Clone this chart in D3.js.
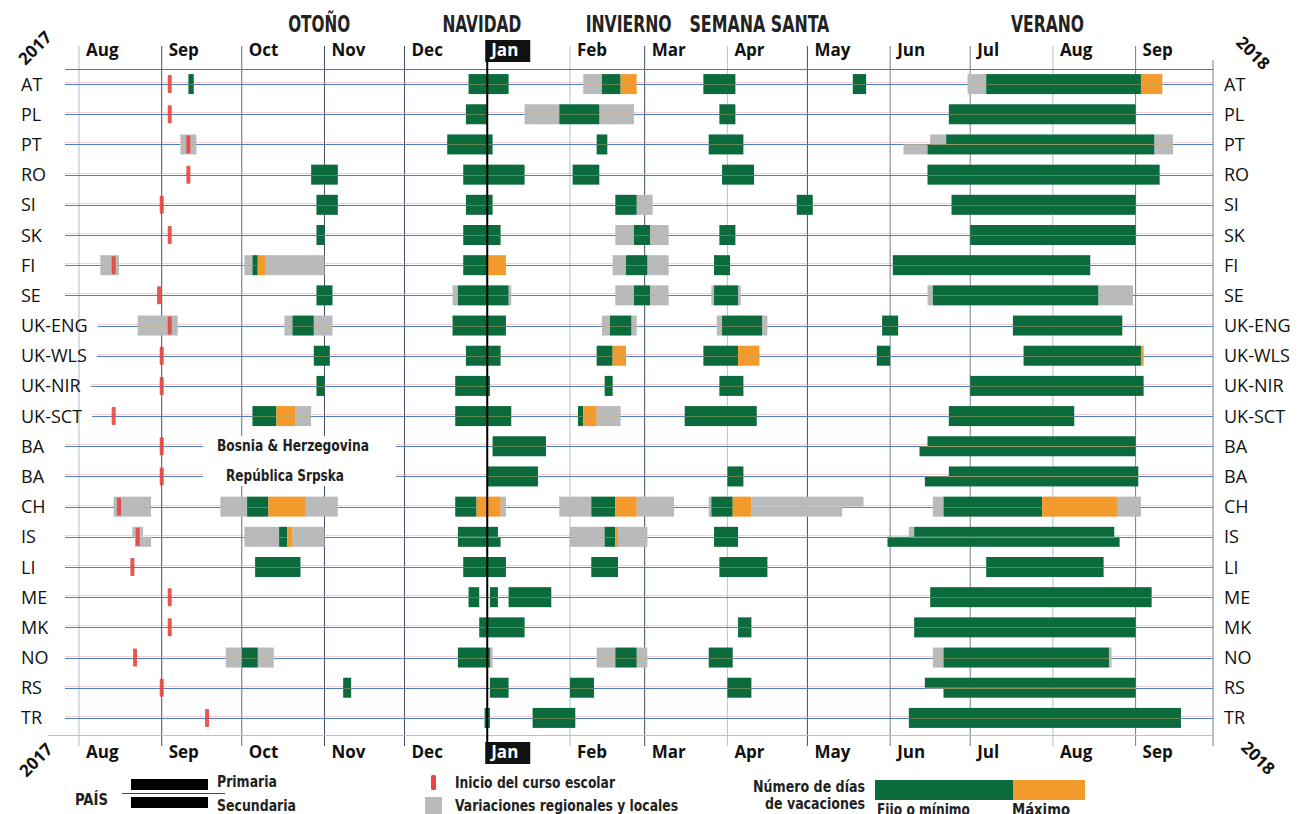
<!DOCTYPE html>
<html>
<head>
<meta charset="utf-8">
<script src="https://cdn.jsdelivr.net/npm/d3@7"></script>
<style>
  body { margin: 0; background: #fff; }
  svg { display: block; }
</style>
</head>
<body>
<svg id="chart" width="1304" height="814"></svg>
<script>
(function () {
	'use strict';

	// rows (two BA rows: Bosnia & Herzegovina / República Srpska)
	var rowIds = ["AT", "PL", "PT", "RO", "SI", "SK", "FI", "SE", "UK-ENG", "UK-WLS", "UK-NIR", "UK-SCT",
		"BA-BH", "BA-RS", "CH", "IS", "LI", "ME", "MK", "NO", "RS", "TR"];
	var rowLabels = ["AT", "PL", "PT", "RO", "SI", "SK", "FI", "SE", "UK-ENG", "UK-WLS", "UK-NIR", "UK-SCT",
		"BA", "BA", "CH", "IS", "LI", "ME", "MK", "NO", "RS", "TR"];

	var monthTicks = ["2017-08-01", "2017-09-01", "2017-10-01", "2017-11-01", "2017-12-01", "2018-01-01", "2018-02-01",
		"2018-03-01", "2018-04-01", "2018-05-01", "2018-06-01", "2018-07-01", "2018-08-01", "2018-09-01"];
	var tickLabels = ["Aug", "Sep", "Oct", "Nov", "Dec", "Jan", "Feb", "Mar", "Apr", "May", "Jun", "Jul", "Aug", "Sep"];

	var seasons = ["OTOÑO", "NAVIDAD", "INVIERNO", "SEMANA SANTA", "VERANO"];
	var seasonDates = ["2017-10-30", "2017-12-30", "2018-02-23", "2018-04-13", "2018-07-30"];

	// start of school year: [row, date]
	var schoolStart = [
		["AT", "2017-09-04"], ["PL", "2017-09-04"], ["PT", "2017-09-11"], ["RO", "2017-09-11"], ["SI", "2017-09-01"],
		["SK", "2017-09-04"], ["FI", "2017-08-14"], ["SE", "2017-08-31"], ["UK-ENG", "2017-09-04"], ["UK-WLS", "2017-09-01"],
		["UK-NIR", "2017-09-01"], ["UK-SCT", "2017-08-14"], ["BA-BH", "2017-09-01"], ["BA-RS", "2017-09-01"],
		["CH", "2017-08-16"], ["IS", "2017-08-23"], ["LI", "2017-08-21"], ["ME", "2017-09-04"], ["MK", "2017-09-04"],
		["NO", "2017-08-22"], ["RS", "2017-09-01"], ["TR", "2017-09-18"]
	];

	// regional and local variations: [row, start, end, half]  (b = both, p = primaria, s = secundaria)
	var regional = [
		["AT", "2018-02-06", "2018-02-13", "b"], ["AT", "2018-06-30", "2018-07-07", "b"],
		["PL", "2018-01-15", "2018-01-28", "b"], ["PL", "2018-02-12", "2018-02-25", "b"],
		["PT", "2017-09-08", "2017-09-14", "b"], ["PT", "2018-06-16", "2018-06-22", "p"], ["PT", "2018-09-08", "2018-09-15", "b"],
		["PT", "2018-06-06", "2018-06-15", "s"],
		["SI", "2018-02-26", "2018-03-04", "b"],
		["SK", "2018-02-18", "2018-02-25", "b"], ["SK", "2018-03-03", "2018-03-10", "b"],
		["FI", "2017-08-09", "2017-08-16", "b"], ["FI", "2017-10-02", "2017-10-05", "b"], ["FI", "2017-10-10", "2017-11-01", "b"],
		["FI", "2018-02-17", "2018-02-22", "b"], ["FI", "2018-03-02", "2018-03-10", "b"],
		["SE", "2017-12-19", "2017-12-21", "b"], ["SE", "2018-01-09", "2018-01-10", "b"], ["SE", "2018-02-18", "2018-02-25", "b"],
		["SE", "2018-03-03", "2018-03-10", "b"], ["SE", "2018-03-26", "2018-03-27", "b"], ["SE", "2018-04-05", "2018-04-06", "b"],
		["SE", "2018-06-15", "2018-06-17", "b"], ["SE", "2018-08-18", "2018-08-31", "b"],
		["UK-ENG", "2017-08-23", "2017-09-07", "b"], ["UK-ENG", "2017-10-17", "2017-10-20", "b"], ["UK-ENG", "2017-10-28", "2017-11-04", "b"],
		["UK-ENG", "2018-02-13", "2018-02-16", "b"], ["UK-ENG", "2018-02-24", "2018-02-26", "b"],
		["UK-ENG", "2018-03-28", "2018-03-30", "b"], ["UK-ENG", "2018-04-14", "2018-04-16", "b"],
		["UK-SCT", "2017-10-21", "2017-10-27", "b"], ["UK-SCT", "2018-02-11", "2018-02-20", "b"],
		["CH", "2017-08-14", "2017-08-28", "b"], ["CH", "2017-09-23", "2017-10-03", "b"], ["CH", "2017-10-25", "2017-11-06", "b"],
		["CH", "2018-01-06", "2018-01-08", "b"], ["CH", "2018-01-28", "2018-02-09", "b"], ["CH", "2018-02-26", "2018-03-12", "b"],
		["CH", "2018-03-25", "2018-03-26", "b"], ["CH", "2018-04-10", "2018-05-22", "p"], ["CH", "2018-04-10", "2018-05-14", "s"],
		["CH", "2018-06-17", "2018-06-21", "b"], ["CH", "2018-08-25", "2018-09-03", "b"],
		["IS", "2017-08-21", "2017-08-25", "p"], ["IS", "2017-08-22", "2017-08-28", "s"],
		["IS", "2017-10-02", "2017-10-15", "b"], ["IS", "2017-10-20", "2017-11-01", "b"],
		["IS", "2018-02-01", "2018-02-14", "b"], ["IS", "2018-02-19", "2018-03-02", "b"], ["IS", "2018-06-08", "2018-06-10", "p"],
		["NO", "2017-09-25", "2017-10-01", "b"], ["NO", "2017-10-07", "2017-10-13", "b"], ["NO", "2018-01-02", "2018-01-03", "b"],
		["NO", "2018-02-11", "2018-02-18", "b"], ["NO", "2018-02-26", "2018-03-02", "b"],
		["NO", "2018-06-17", "2018-06-21", "b"], ["NO", "2018-08-22", "2018-08-23", "b"]
	];

	// fixed or minimum holidays
	var fixedDays = [
		["AT", "2017-09-11", "2017-09-13", "b"], ["AT", "2017-12-25", "2018-01-09", "b"], ["AT", "2018-02-13", "2018-02-20", "b"],
		["AT", "2018-03-23", "2018-04-04", "b"], ["AT", "2018-05-18", "2018-05-23", "b"], ["AT", "2018-07-07", "2018-09-03", "b"],
		["PL", "2017-12-24", "2018-01-01", "b"], ["PL", "2018-01-28", "2018-02-12", "b"], ["PL", "2018-03-29", "2018-04-04", "b"],
		["PL", "2018-06-23", "2018-09-01", "b"],
		["PT", "2017-12-17", "2018-01-03", "b"], ["PT", "2018-02-11", "2018-02-15", "b"], ["PT", "2018-03-25", "2018-04-07", "b"],
		["PT", "2018-06-22", "2018-09-08", "p"], ["PT", "2018-06-15", "2018-09-08", "s"],
		["RO", "2017-10-27", "2017-11-06", "b"], ["RO", "2017-12-23", "2018-01-15", "b"], ["RO", "2018-02-02", "2018-02-12", "b"],
		["RO", "2018-03-30", "2018-04-11", "b"], ["RO", "2018-06-15", "2018-09-10", "b"],
		["SI", "2017-10-29", "2017-11-06", "b"], ["SI", "2017-12-24", "2018-01-03", "b"], ["SI", "2018-02-18", "2018-02-26", "b"],
		["SI", "2018-04-27", "2018-05-03", "b"], ["SI", "2018-06-24", "2018-09-01", "b"],
		["SK", "2017-10-29", "2017-11-01", "b"], ["SK", "2017-12-23", "2018-01-06", "b"], ["SK", "2018-02-25", "2018-03-03", "b"],
		["SK", "2018-03-29", "2018-04-04", "b"], ["SK", "2018-07-01", "2018-09-01", "b"],
		["FI", "2017-10-05", "2017-10-07", "b"], ["FI", "2017-12-23", "2018-01-01", "b"], ["FI", "2018-02-22", "2018-03-02", "b"],
		["FI", "2018-03-27", "2018-04-02", "b"], ["FI", "2018-06-02", "2018-08-15", "b"],
		["SE", "2017-10-29", "2017-11-04", "b"], ["SE", "2017-12-21", "2018-01-09", "b"], ["SE", "2018-02-25", "2018-03-03", "b"],
		["SE", "2018-03-27", "2018-04-05", "b"], ["SE", "2018-06-17", "2018-08-18", "b"],
		["UK-ENG", "2017-10-20", "2017-10-28", "b"], ["UK-ENG", "2017-12-19", "2018-01-08", "b"], ["UK-ENG", "2018-02-16", "2018-02-24", "b"],
		["UK-ENG", "2018-03-30", "2018-04-14", "b"], ["UK-ENG", "2018-05-29", "2018-06-04", "b"], ["UK-ENG", "2018-07-17", "2018-08-27", "b"],
		["UK-WLS", "2017-10-28", "2017-11-03", "b"], ["UK-WLS", "2017-12-24", "2018-01-06", "b"], ["UK-WLS", "2018-02-11", "2018-02-17", "b"],
		["UK-WLS", "2018-03-23", "2018-04-05", "b"], ["UK-WLS", "2018-05-27", "2018-06-01", "b"], ["UK-WLS", "2018-07-21", "2018-09-03", "b"],
		["UK-NIR", "2017-10-29", "2017-11-01", "b"], ["UK-NIR", "2017-12-20", "2018-01-02", "b"], ["UK-NIR", "2018-02-14", "2018-02-17", "b"],
		["UK-NIR", "2018-03-29", "2018-04-07", "b"], ["UK-NIR", "2018-07-01", "2018-09-04", "b"],
		["UK-SCT", "2017-10-05", "2017-10-14", "b"], ["UK-SCT", "2017-12-20", "2018-01-10", "b"], ["UK-SCT", "2018-02-04", "2018-02-06", "b"],
		["UK-SCT", "2018-03-16", "2018-04-12", "b"], ["UK-SCT", "2018-06-23", "2018-08-09", "b"],
		["BA-BH", "2018-01-03", "2018-01-23", "b"], ["BA-BH", "2018-06-15", "2018-09-01", "p"], ["BA-BH", "2018-06-12", "2018-09-01", "s"],
		["BA-RS", "2018-01-01", "2018-01-20", "b"], ["BA-RS", "2018-04-01", "2018-04-07", "b"],
		["BA-RS", "2018-06-23", "2018-09-02", "p"], ["BA-RS", "2018-06-14", "2018-09-02", "s"],
		["CH", "2017-10-03", "2017-10-11", "b"], ["CH", "2017-12-20", "2017-12-28", "b"], ["CH", "2018-02-09", "2018-02-18", "b"],
		["CH", "2018-03-26", "2018-04-03", "b"], ["CH", "2018-06-21", "2018-07-28", "b"],
		["IS", "2017-10-15", "2017-10-18", "b"], ["IS", "2017-12-21", "2018-01-05", "p"], ["IS", "2017-12-21", "2018-01-06", "s"],
		["IS", "2018-02-14", "2018-02-18", "b"], ["IS", "2018-03-27", "2018-04-05", "b"],
		["IS", "2018-06-10", "2018-08-24", "p"], ["IS", "2018-05-31", "2018-08-26", "s"],
		["LI", "2017-10-06", "2017-10-23", "b"], ["LI", "2017-12-23", "2018-01-08", "b"], ["LI", "2018-02-09", "2018-02-19", "b"],
		["LI", "2018-03-29", "2018-04-16", "b"], ["LI", "2018-07-07", "2018-08-20", "b"],
		["ME", "2017-12-25", "2017-12-29", "b"], ["ME", "2018-01-02", "2018-01-05", "b"], ["ME", "2018-01-09", "2018-01-25", "b"],
		["ME", "2018-06-16", "2018-09-07", "b"],
		["MK", "2017-12-29", "2018-01-15", "b"], ["MK", "2018-04-05", "2018-04-10", "b"], ["MK", "2018-06-10", "2018-09-01", "b"],
		["NO", "2017-10-01", "2017-10-07", "b"], ["NO", "2017-12-21", "2018-01-02", "b"], ["NO", "2018-02-18", "2018-02-26", "b"],
		["NO", "2018-03-25", "2018-04-03", "b"], ["NO", "2018-06-21", "2018-08-22", "b"],
		["RS", "2017-11-08", "2017-11-11", "b"], ["RS", "2018-01-02", "2018-01-09", "b"], ["RS", "2018-02-01", "2018-02-10", "b"],
		["RS", "2018-04-01", "2018-04-10", "b"], ["RS", "2018-06-14", "2018-09-01", "p"], ["RS", "2018-06-21", "2018-09-01", "s"],
		["TR", "2017-12-31", "2018-01-02", "b"], ["TR", "2018-01-18", "2018-02-03", "b"], ["TR", "2018-06-08", "2018-09-18", "b"]
	];

	// maximum holidays
	var maxDays = [
		["AT", "2018-02-20", "2018-02-26", "b"], ["AT", "2018-09-03", "2018-09-11", "b"],
		["FI", "2017-10-07", "2017-10-10", "b"], ["FI", "2018-01-01", "2018-01-08", "b"],
		["UK-WLS", "2018-02-17", "2018-02-22", "b"], ["UK-WLS", "2018-04-05", "2018-04-13", "b"], ["UK-WLS", "2018-09-03", "2018-09-04", "b"],
		["UK-SCT", "2017-10-14", "2017-10-21", "b"], ["UK-SCT", "2018-02-06", "2018-02-11", "b"],
		["CH", "2017-10-11", "2017-10-25", "b"], ["CH", "2017-12-28", "2018-01-06", "b"], ["CH", "2018-02-18", "2018-02-26", "b"],
		["CH", "2018-04-03", "2018-04-10", "b"], ["CH", "2018-07-28", "2018-08-25", "b"],
		["IS", "2017-10-18", "2017-10-20", "b"], ["IS", "2018-02-18", "2018-02-19", "b"]
	];

	var GREEN = "#0c6b3c", ORANGE = "#f39a2c", GRAY = "#b9babc", RED = "#e8453c";
	var condensed = "'Liberation Sans Narrow', 'DejaVu Sans Condensed', 'Roboto Condensed', sans-serif";
	var humanist = "'Open Sans', 'Noto Sans', sans-serif";

	var parse = d3.timeParse("%Y-%m-%d");
	var svg = d3.select("#chart");

	var x = d3.scaleTime()
		.domain([parse("2017-08-01"), parse("2018-09-30")])
		.range([79, 1213]);
	var y = d3.scaleBand().domain(rowIds).range([69, 733]);
	function yc(id) { return y(id) + y.bandwidth() / 2; }
	function y0(d) { return d[3] === "s" ? yc(d[0]) : yc(d[0]) - 10; }
	function hh(d) { return d[3] === "b" ? 20 : 10; }

	// month line tones
	var tone = ["#a9bfd6", "#3f5068", "#5d6f86", "#3f5068", "#3f5068", "#000", "#a9bfd6",
		"#3f5068", "#a9c6e0", "#3f5068", "#6d7f96", "#6d7f96", "#a9bfd6", "#6d7f96"];

	var gLines = svg.append("g");
	monthTicks.forEach(function (m, i) {
		if (i === 5) return;
		gLines.append("line")
			.attr("x1", x(parse(m))).attr("x2", x(parse(m)))
			.attr("y1", 46).attr("y2", 746)
			.attr("stroke", tone[i]).attr("stroke-width", 1);
	});
	gLines.append("line")
		.attr("x1", x.range()[1]).attr("x2", x.range()[1])
		.attr("y1", 60).attr("y2", 746)
		.attr("stroke", "#6d7f96");

	// frame lines
	svg.append("line").attr("x1", 65).attr("x2", 1213).attr("y1", 69.5).attr("y2", 69.5)
		.attr("stroke", "#4f77b8");
	svg.append("line").attr("x1", 48).attr("x2", 1213).attr("y1", 735.5).attr("y2", 735.5)
		.attr("stroke", "#a9c6e0");

	// row labels
	var gLab = svg.append("g")
		.attr("font-family", humanist).attr("font-size", 18).attr("fill", "#111");
	var labelEnds = {};
	rowIds.forEach(function (id, i) {
		var t = gLab.append("text")
			.attr("x", 21).attr("y", yc(id) + 6.5)
			.text(rowLabels[i]);
		labelEnds[id] = 21 + t.node().getComputedTextLength();
		gLab.append("text")
			.attr("x", 1224).attr("y", yc(id) + 6.5)
			.text(rowLabels[i]);
	});

	// row lines
	var gRows = svg.append("g");
	rowIds.forEach(function (id) {
		var x1 = Math.max(65, labelEnds[id] + 10);
		gRows.append("line")
			.attr("x1", x1).attr("x2", 1213)
			.attr("y1", Math.round(yc(id)) - 1.5).attr("y2", Math.round(yc(id)) - 1.5)
			.attr("stroke", "#ee9a9a").attr("stroke-opacity", 0.45);
		gRows.append("line")
			.attr("x1", x1).attr("x2", 1213)
			.attr("y1", Math.round(yc(id)) + 0.5).attr("y2", Math.round(yc(id)) + 0.5)
			.attr("stroke", "#4f7fc4");
	});

	// BA notes box
	svg.append("rect").attr("x", 203).attr("y", 436).attr("width", 193).attr("height", 50).attr("fill", "#fff");
	svg.append("text").attr("x", 217).attr("y", yc("BA-BH") + 5)
		.attr("font-family", condensed).attr("font-weight", "bold")
		.attr("font-size", 15).attr("fill", "#222")
		.attr("textLength", 152).attr("lengthAdjust", "spacingAndGlyphs")
		.text("Bosnia & Herzegovina");
	svg.append("text").attr("x", 226).attr("y", yc("BA-RS") + 5)
		.attr("font-family", condensed).attr("font-weight", "bold")
		.attr("font-size", 15).attr("fill", "#222")
		.attr("textLength", 118).attr("lengthAdjust", "spacingAndGlyphs")
		.text("República Srpska");

	function bars(data, color) {
		svg.append("g").selectAll("rect")
			.data(data)
			.enter()
			.append("rect")
			.attr("x", function (d) { return x(parse(d[1])); })
			.attr("width", function (d) { return Math.max(2, x(parse(d[2])) - x(parse(d[1]))); })
			.attr("y", y0)
			.attr("height", hh)
			.attr("fill", color);
	}
	bars(regional, GRAY);
	bars(fixedDays, GREEN);
	bars(maxDays, ORANGE);

	// thin divider between primaria / secundaria over the bars
	svg.append("g").selectAll("line")
		.data(fixedDays.concat(maxDays, regional))
		.enter()
		.append("line")
		.attr("x1", function (d) { return x(parse(d[1])); })
		.attr("x2", function (d) { return x(parse(d[2])); })
		.attr("y1", function (d) { return Math.round(yc(d[0])) + 0.5; })
		.attr("y2", function (d) { return Math.round(yc(d[0])) + 0.5; })
		.attr("stroke", "#c9ad6e").attr("stroke-opacity", 0.55).attr("stroke-width", 0.8);

	// school start markers
	svg.append("g").selectAll("rect")
		.data(schoolStart)
		.enter()
		.append("rect")
		.attr("x", function (d) { return x(parse(d[1])) - 2; })
		.attr("y", function (d) { return yc(d[0]) - 9; })
		.attr("width", 4)
		.attr("height", 18)
		.attr("rx", 1)
		.attr("fill", RED)
		.attr("fill-opacity", 0.9);

	// January line on top
	var jan = x(parse("2018-01-01"));
	svg.append("line").attr("x1", jan).attr("x2", jan).attr("y1", 58).attr("y2", 746)
		.attr("stroke", "#000").attr("stroke-width", 2);

	// month labels top / bottom
	var gM = svg.append("g").attr("font-family", humanist).attr("font-weight", "bold").attr("font-size", 17);
	[56, 758].forEach(function (by) {
		monthTicks.forEach(function (m, i) {
			var xx = x(parse(m));
			if (i === 5) {
				gM.append("rect").attr("x", xx - 2).attr("y", by - 16).attr("width", 45).attr("height", 22).attr("fill", "#111");
				gM.append("text").attr("x", xx + 4).attr("y", by).attr("fill", "#fff").text(tickLabels[i]);
			} else {
				gM.append("text").attr("x", xx + 7).attr("y", by).attr("fill", "#111").text(tickLabels[i]);
			}
		});
	});

	// season titles
	var seasonWidths = [62, 79, 86, 140, 73];
	svg.append("g").selectAll("text")
		.data(seasons)
		.enter()
		.append("text")
		.attr("x", function (d, i) { return x(parse(seasonDates[i])) - seasonWidths[i] / 2; })
		.attr("y", 32)
		.attr("textLength", function (d, i) { return seasonWidths[i]; })
		.attr("lengthAdjust", "spacingAndGlyphs")
		.attr("font-family", condensed).attr("font-weight", "bold").attr("font-size", 23)
		.attr("fill", "#222")
		.text(function (d) { return d; });

	// year corner labels
	function year(t, cx, cy, a) {
		svg.append("text")
			.attr("transform", "translate(" + cx + "," + cy + ") rotate(" + a + ")")
			.attr("text-anchor", "middle").attr("dy", "0.35em")
			.attr("font-family", humanist).attr("font-weight", "bold").attr("font-size", 17)
			.attr("fill", "#111").text(t);
	}
	year("2017", 35, 48, -45);
	year("2018", 1253, 53, 45);
	year("2017", 36, 760, -45);
	year("2018", 1258, 758, 45);

	// legend
	var lg = svg.append("g").attr("font-family", condensed).attr("font-weight", "bold")
		.attr("font-size", 15).attr("fill", "#222");
	function lt(tx, ty, s, w, anchor) {
		lg.append("text").attr("x", tx).attr("y", ty)
			.attr("text-anchor", anchor || "start")
			.attr("textLength", w).attr("lengthAdjust", "spacingAndGlyphs")
			.text(s);
	}
	lt(75, 805, "PAÍS", 33);
	lg.append("rect").attr("x", 131).attr("y", 779).attr("width", 77).attr("height", 11).attr("fill", "#000");
	lg.append("line").attr("x1", 122).attr("x2", 225).attr("y1", 793.5).attr("y2", 793.5).attr("stroke", "#2d4d6a");
	lg.append("rect").attr("x", 131).attr("y", 797).attr("width", 77).attr("height", 11).attr("fill", "#000");
	lt(217, 787, "Primaria", 60);
	lt(217, 811, "Secundaria", 79);

	lg.append("rect").attr("x", 431).attr("y", 775).attr("width", 5).attr("height", 15).attr("rx", 1.5).attr("fill", RED);
	lt(455, 788, "Inicio del curso escolar", 160);
	lg.append("rect").attr("x", 425).attr("y", 797).attr("width", 17).attr("height", 17).attr("fill", GRAY);
	lt(455, 811, "Variaciones regionales y locales", 223);

	lt(865, 792, "Número de días", 112, "end");
	lt(865, 809, "de vacaciones", 100, "end");
	lg.append("rect").attr("x", 875).attr("y", 780).attr("width", 138).attr("height", 20).attr("fill", GREEN);
	lg.append("rect").attr("x", 1013).attr("y", 780).attr("width", 72).attr("height", 20).attr("fill", ORANGE);
	lt(877, 815, "Fijo o mínimo", 93);
	lt(1012, 815, "Máximo", 58);
}());
</script>
</body>
</html>
